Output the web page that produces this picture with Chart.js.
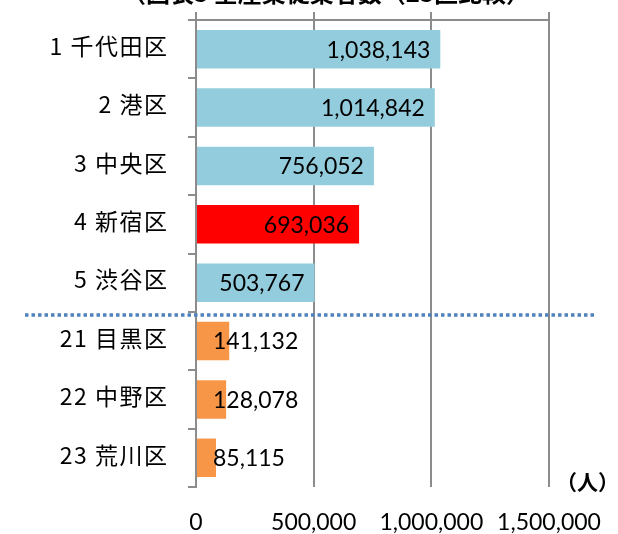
<!DOCTYPE html>
<html>
<head>
<meta charset="utf-8">
<script src="https://cdn.jsdelivr.net/npm/chart.js@4.4.0/dist/chart.umd.min.js"></script>
<style>
html,body{margin:0;padding:0;background:#fff;}
#wrap{width:618px;height:534px;}
</style>
</head>
<body>
<div id="wrap"><canvas id="c" width="618" height="534"></canvas></div>
<script>
const categories = ['1 千代田区','2 港区','3 中央区','4 新宿区','5 渋谷区','21 目黒区','22 中野区','23 荒川区'];
const values = [1038143, 1014842, 756052, 693036, 503767, 141132, 128078, 85115];
const barColors = ['#93CDDD','#93CDDD','#93CDDD','#FF0000','#93CDDD','#F79646','#F79646','#F79646'];
const xTicks = [0, 500000, 1000000, 1500000];
const titleText = '（図表3 全産業従業者数（23区比較）';
const unitText = '（人）';

const NUM_FONT = "Lato, 'Noto Sans CJK JP', sans-serif";
const JP_FONT = "'Noto Sans CJK JP', sans-serif";
const AXIS_GRAY = '#8c8c8c';
const fmt = v => v.toLocaleString('en-US');

const labelPlugin = {
  id: 'labels',
  afterDatasetsDraw(chart) {
    const ctx = chart.ctx;
    const meta = chart.getDatasetMeta(0);
    const xs = chart.scales.x;
    const ys = chart.scales.y;
    const base = xs.getPixelForValue(0);
    ctx.save();
    ctx.font = '23px ' + NUM_FONT;
    ctx.fillStyle = '#000';
    ctx.textBaseline = 'middle';
    meta.data.forEach((bar, i) => {
      const txt = fmt(values[i]);
      const w = ctx.measureText(txt).width;
      const end = bar.x;
      if (w + 20 < end - base) {
        ctx.textAlign = 'right';
        ctx.fillText(txt, end - 10, bar.y + 1);
      } else {
        ctx.textAlign = 'left';
        ctx.fillText(txt, base + 17, bar.y + 1);
      }
    });
    // category labels (drawn here for letter spacing control)
    ctx.font = '23px ' + JP_FONT;
    if ('letterSpacing' in ctx) ctx.letterSpacing = '1.5px';
    ctx.textAlign = 'right';
    ctx.textBaseline = 'middle';
    categories.forEach((c, i) => {
      ctx.fillText(c, ys.left + ys.width - 27.5, ys.getPixelForValue(i) - 3);
    });
    if ('letterSpacing' in ctx) ctx.letterSpacing = '0px';
    // separator dotted line between rank 5 and rank 21
    const sepY = (ys.getPixelForValue(4) + ys.getPixelForValue(5)) / 2 + 3;
    ctx.beginPath();
    ctx.setLineDash([3.5, 3]);
    ctx.lineWidth = 3.5;
    ctx.strokeStyle = '#4F81BD';
    ctx.moveTo(25, sepY);
    ctx.lineTo(594, sepY);
    ctx.stroke();
    ctx.setLineDash([]);
    // unit
    ctx.font = 'bold 21px ' + JP_FONT;
    ctx.textAlign = 'left';
    ctx.textBaseline = 'middle';
    ctx.fillText(unitText, 556, 482);
    // title (cut off at the top)
    ctx.font = 'bold 24px ' + JP_FONT;
    ctx.textAlign = 'center';
    ctx.textBaseline = 'alphabetic';
    ctx.fillText(titleText, 326, 2);
    ctx.restore();
  }
};

new Chart(document.getElementById('c'), {
  type: 'bar',
  data: {
    labels: categories,
    datasets: [{
      data: values,
      backgroundColor: barColors,
      borderWidth: 0,
      categoryPercentage: 1.0,
      barPercentage: 0.66,
      xAxisID: 'x',
      yAxisID: 'y'
    }]
  },
  options: {
    indexAxis: 'y',
    responsive: false,
    animation: false,
    layout: { padding: { left: 0, right: 69, top: 0, bottom: 0 } },
    plugins: { legend: { display: false }, tooltip: { enabled: false }, title: { display: false } },
    scales: {
      x: {
        type: 'linear',
        position: 'top',
        min: 0, max: 1500000,
        afterBuildTicks: s => { s.ticks = xTicks.map(v => ({ value: v })); },
        ticks: { display: false },
        grid: { color: AXIS_GRAY, lineWidth: 2, drawTicks: true, tickLength: 8 },
        border: { display: true, color: AXIS_GRAY, width: 2 },
        afterFit: s => { s.height = 20; s.paddingLeft = 0; s.paddingRight = 0; }
      },
      x2: {
        type: 'linear',
        axis: 'x',
        position: 'bottom',
        min: 0, max: 1500000,
        afterBuildTicks: s => { s.ticks = xTicks.map(v => ({ value: v })); },
        ticks: { color: '#000', font: { size: 23, family: NUM_FONT }, padding: 22, maxRotation: 0, autoSkip: false, callback: v => fmt(v) },
        grid: { display: false, drawTicks: false },
        border: { display: false },
        afterFit: s => { s.height = 47; s.paddingLeft = 0; s.paddingRight = 0; }
      },
      y: {
        type: 'category',
        offset: true,
        grid: { drawOnChartArea: false, offset: true, drawTicks: true, tickLength: 8, color: AXIS_GRAY, lineWidth: 2 },
        border: { display: true, color: AXIS_GRAY, width: 2 },
        ticks: { display: false },
        afterFit: s => { s.width = 196; s.paddingTop = 0; s.paddingBottom = 0; }
      }
    }
  },
  plugins: [labelPlugin]
});
</script>
</body>
</html>
